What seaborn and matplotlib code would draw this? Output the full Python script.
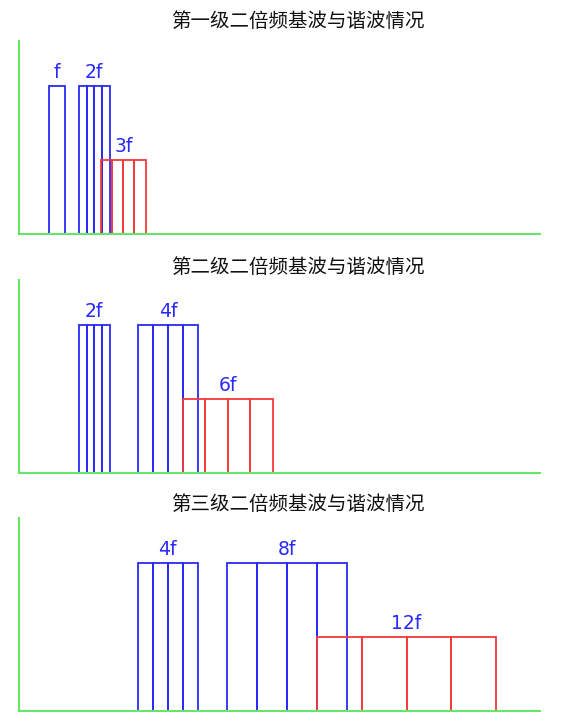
import numpy as np
import pandas as pd
import matplotlib
matplotlib.use('Agg')
import matplotlib.pyplot as plt
import seaborn as sns

sns.set_style('white')
plt.rcParams['font.family'] = ['Noto Sans CJK SC', 'DejaVu Sans']

# panel titles
titles = ['第一级二倍频基波与谐波情况', '第二级二倍频基波与谐波情况', '第三级二倍频基波与谐波情况']

# bands per panel: label, start, end, number of sub-bars, height
level1_labels = ['f', '2f', '3f']
level1_start = [1.0, 2.0, 2.73]
level1_end = [1.53, 3.02, 4.22]
level1_parts = [1, 4, 4]
level1_height = [1.0, 1.0, 0.5]

level2_labels = ['2f', '4f', '6f']
level2_start = [2.0, 3.96, 5.46]
level2_end = [3.02, 5.97, 8.46]
level2_parts = [4, 4, 4]
level2_height = [1.0, 1.0, 0.5]

level3_labels = ['4f', '8f', '12f']
level3_start = [3.96, 6.93, 9.94]
level3_end = [5.96, 10.92, 15.9]
level3_parts = [4, 4, 4]
level3_height = [1.0, 1.0, 0.5]

levels = [
    (level1_labels, level1_start, level1_end, level1_parts, level1_height),
    (level2_labels, level2_start, level2_end, level2_parts, level2_height),
    (level3_labels, level3_start, level3_end, level3_parts, level3_height),
]

blue = '#2a2af8'
red = '#f53a3a'
green = '#66e666'

fig = plt.figure(figsize=(5.68, 7.23), dpi=100)
axes_bottoms = [0.6763, 0.3462, 0.0166]
title_y = [0.970, 0.630, 0.302]

for i, (labels, starts, ends, parts, heights) in enumerate(levels):
    ax = fig.add_axes([0.0335, axes_bottoms[i], 0.9172, 0.267])
    for j, lab in enumerate(labels):
        edges = np.linspace(starts[j], ends[j], parts[j] + 1)
        band = pd.DataFrame({'x': (edges[:-1] + edges[1:]) / 2,
                             'w': [heights[j]] * parts[j]})
        color = red if heights[j] < 1 else blue
        sns.histplot(data=band, x='x', weights='w', bins=list(edges),
                     fill=False, color=color, linewidth=1.3, ax=ax)
        ax.text((starts[j] + ends[j]) / 2, heights[j] + 0.025, lab, color=blue,
                ha='center', va='bottom', fontsize=13.5, family='DejaVu Sans')
    ax.set_xlim(0, 17.37)
    ax.set_ylim(0, 1.304)
    ax.set_xticks([])
    ax.set_yticks([])
    ax.set_xlabel('')
    ax.set_ylabel('')
    sns.despine(ax=ax)
    for side in ['left', 'bottom']:
        ax.spines[side].set_color(green)
        ax.spines[side].set_linewidth(1.5)
    fig.text(0.524, title_y[i], titles[i], ha='center', va='center', fontsize=14,
             color='#111111')

fig.savefig('out.png', dpi=100)
